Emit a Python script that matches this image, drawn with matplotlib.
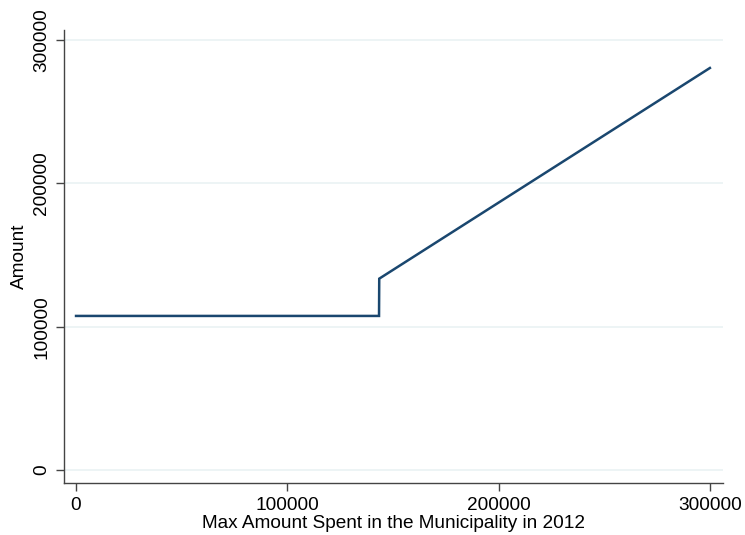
import matplotlib
matplotlib.use("Agg")
import matplotlib.pyplot as plt

x_vals = [0, 143400, 143500, 300000]
y_vals = [107500, 107500, 133500, 280500]
xticks = [0, 100000, 200000, 300000]
yticks = [0, 100000, 200000, 300000]

plt.rcParams['font.family'] = ['Liberation Sans', 'DejaVu Sans']

fig = plt.figure(figsize=(7.45, 5.35), dpi=100)
ax = fig.add_axes([64/745, 52/535, (723-64)/745, (483-30)/535])
ax.plot(x_vals, y_vals, color='#1a476f', lw=1.8, solid_joinstyle='miter')
ax.set_xlim(-5700, 306200)
ax.set_ylim(-9070, 307000)
ax.set_xticks(xticks)
ax.set_yticks(yticks)
ax.set_xticklabels([str(v) for v in xticks], fontsize=13.7)
ax.set_yticklabels([str(v) for v in yticks], fontsize=13.7, rotation=90, va='center')
ax.yaxis.grid(True, color='#eaf2f3', lw=1.2)
ax.set_axisbelow(True)
for s in ['top', 'right']:
    ax.spines[s].set_visible(False)
for s in ['left', 'bottom']:
    ax.spines[s].set_color('#444444')
    ax.spines[s].set_linewidth(1.0)
ax.tick_params(direction='out', length=6, width=1, color='#444444', pad=4)
ax.set_xlabel('Max Amount Spent in the Municipality in 2012', fontsize=13.7, labelpad=1)
ax.set_ylabel('Amount', fontsize=13.7, labelpad=4)
fig.savefig('out.png', dpi=100)
